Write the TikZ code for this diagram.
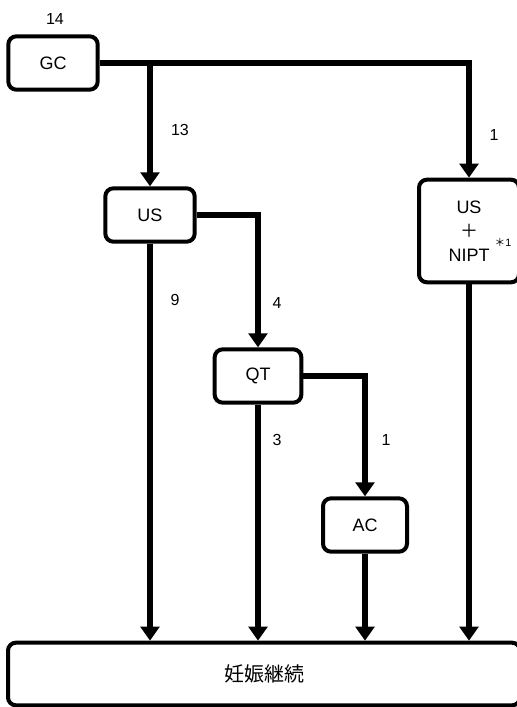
\documentclass[tikz,border=0pt]{standalone}
\usepackage{fontspec}
\setmainfont{Liberation Sans}
\newfontfamily\cjk{Noto Sans CJK JP}
\usetikzlibrary{arrows.meta}
\begin{document}
\begin{tikzpicture}
[
    x=0.75pt, y=-0.75pt,
    box/.style={draw, line width=3pt, rounded corners=6pt, align=center,
        font=\fontsize{13.5}{18}\selectfont},
    flow/.style={line width=3.8pt, -{Triangle[width=14pt,length=10.5pt]}},
    count/.style={font=\fontsize{12}{14}\selectfont}
]
    \useasboundingbox (0,0) rectangle (517,707);

    % boxes
    \node [box, minimum width=67pt, minimum height=40pt] (gc) at (53,63) {GC};
    \node [box, minimum width=67pt, minimum height=40pt] (us) at (150,215) {US};
    \node [box, minimum width=65pt, minimum height=40pt] (qt) at (258,376) {QT};
    \node [box, minimum width=63pt, minimum height=40pt] (ac) at (365,525) {AC};
    \node [box, minimum width=75pt, minimum height=77pt] (nipt) at (469,231)
        {US\\{\cjk ＋}\\NIPT};
    \node [box, minimum width=384pt, minimum height=47pt] (goal) at (264,674)
        {{\cjk\fontsize{15}{18}\selectfont 妊娠継続}};
    \node [font=\fontsize{8}{10}\selectfont] (note) at (503,242) {{\cjk ＊}1};

    % connectors
    \coordinate (split) at (us.north |- gc.east);
    \draw [flow] (gc.east) -| (nipt.north);
    \draw [flow] (split) -- (us.north);
    \draw [flow] (us.east) -| (qt.north);
    \draw [flow] (qt.east) -| (ac.north);
    \draw [flow] (us.south) -- (us.south |- goal.north);
    \draw [flow] (qt.south) -- (qt.south |- goal.north);
    \draw [flow] (ac.south) -- (ac.south |- goal.north);
    \draw [flow] (nipt.south) -- (nipt.south |- goal.north);

    % counts
    \node [count] (n14) at (55,19) {14};
    \node [count] (n13) at (180,130) {13};
    \node [count] (n1a) at (494,135) {1};
    \node [count] (n9) at (175,300) {9};
    \node [count] (n4) at (277,303) {4};
    \node [count] (n3) at (277,440) {3};
    \node [count] (n1b) at (386,440) {1};
\end{tikzpicture}
\end{document}
